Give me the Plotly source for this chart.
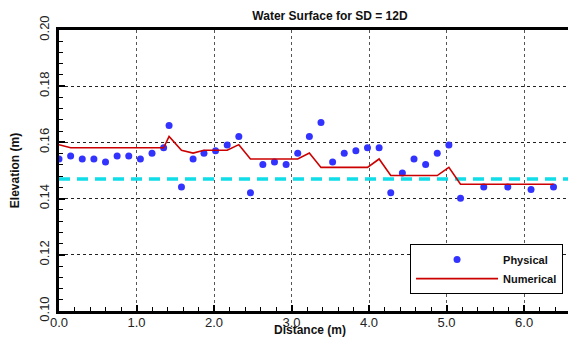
import plotly.graph_objects as go

# ---- data ----
x_phys = [0.0, 0.15, 0.30, 0.45, 0.60, 0.75, 0.90, 1.05, 1.20, 1.35,
          1.42, 1.58, 1.73, 1.87, 2.02, 2.17, 2.32, 2.47, 2.63, 2.78,
          2.93, 3.08, 3.23, 3.38, 3.53, 3.68, 3.83, 3.98, 4.13, 4.28,
          4.43, 4.58, 4.73, 4.88, 5.03, 5.18, 5.48, 5.79, 6.09, 6.38]
y_phys = [0.1541, 0.1552, 0.1541, 0.1541, 0.1530, 0.1552, 0.1552, 0.1541, 0.1561, 0.1581,
          0.1660, 0.1441, 0.1541, 0.1561, 0.1570, 0.1591, 0.1621, 0.1421, 0.1521, 0.1530,
          0.1521, 0.1561, 0.1621, 0.1671, 0.1530, 0.1561, 0.1570, 0.1581, 0.1581, 0.1421,
          0.1491, 0.1541, 0.1521, 0.1561, 0.1591, 0.1401, 0.1441, 0.1441, 0.1432, 0.1441]

x_num = [0.0, 0.15, 1.35, 1.42, 1.58, 1.73, 1.87, 2.17, 2.32, 2.47,
         3.08, 3.23, 3.38, 3.98, 4.13, 4.28, 4.88, 5.03, 5.18, 6.38]
y_num = [0.1592, 0.1581, 0.1581, 0.1621, 0.1572, 0.1562, 0.1572, 0.1572, 0.1592, 0.1541,
         0.1541, 0.1562, 0.1511, 0.1511, 0.1541, 0.1482, 0.1482, 0.1511, 0.1451, 0.1451]

ref_x = [0.0, 6.67]
ref_y = [0.147, 0.147]

x_ticks = [0, 1, 2, 3, 4, 5, 6]
x_ticklabels = ["0.0", "1.0", "2.0", "3.0", "4.0", "5.0", "6.0"]
y_ticks = [0.10, 0.12, 0.14, 0.16, 0.18, 0.20]
y_ticklabels = ["0.10", "0.12", "0.14", "0.16", "0.18", "0.20"]

FONT = "Liberation Sans, Arial, sans-serif"

fig = go.Figure()
fig.add_trace(go.Scatter(
    x=ref_x, y=ref_y, mode="lines", showlegend=False, hoverinfo="skip",
    line=dict(color="#11DDE8", width=3.5, dash="11px,7px")))
fig.add_trace(go.Scatter(
    x=x_phys, y=y_phys, mode="markers", name="Physical",
    marker=dict(color="#3333FF", size=7, line=dict(width=0))))
fig.add_trace(go.Scatter(
    x=x_num, y=y_num, mode="lines", name="Numerical",
    line=dict(color="#CC0000", width=1.6)))

# the page body adds an 8px margin, so the figure is 8px smaller on each side
fig.update_layout(
    width=568, height=332,
    margin=dict(l=51, r=0, t=22, b=29, autoexpand=False),
    paper_bgcolor="white", plot_bgcolor="white",
    font=dict(family=FONT, color="#111"),
    title=dict(text="<b>Water Surface for SD = 12D</b>",
               x=(330 - 8) / 568, xref="container", xanchor="center",
               y=0.977, yref="container", yanchor="middle",
               font=dict(size=12, family=FONT, color="#111")),
    legend=dict(x=0.679, xanchor="left", y=0.238, yanchor="top",
                bgcolor="white", bordercolor="black", borderwidth=1,
                font=dict(size=11, family=FONT, color="#111", weight="bold"),
                itemwidth=82, tracegroupgap=0),
    showlegend=True,
    annotations=[dict(text="<b>Distance (m)</b>", xref="paper", yref="paper",
                      x=0.4855, y=-0.066, xanchor="center", yanchor="middle",
                      showarrow=False,
                      font=dict(size=12, family=FONT, color="#111"))],
)

fig.update_xaxes(
    range=[0, 6.67], tickvals=x_ticks, ticktext=x_ticklabels,
    automargin=False,
    showline=True, linecolor="black", linewidth=2.5, mirror=True,
    ticks="inside", ticklen=6, tickcolor="black", tickwidth=1.5,
    tickfont=dict(size=13, family=FONT, color="#222"),
    ticklabelstandoff=-2,
    showgrid=True, gridcolor="#555", griddash="dot", gridwidth=1,
    zeroline=False,
    minor=dict(dtick=0.2, tick0=0, ticks="inside", ticklen=4, tickcolor="black",
               tickwidth=1, showgrid=False),
)
fig.update_yaxes(
    range=[0.10, 0.20], tickvals=y_ticks, ticktext=y_ticklabels,
    tickangle=-90, automargin=False,
    showline=True, linecolor="black", linewidth=2.5,
    ticks="inside", ticklen=6, tickcolor="black", tickwidth=1.5,
    tickfont=dict(size=13, family=FONT, color="#222"),
    ticklabelstandoff=2,
    showgrid=True, gridcolor="#222", griddash="dot", gridwidth=1,
    zeroline=False,
    minor=dict(dtick=0.004, tick0=0.10, ticks="inside", ticklen=4, tickcolor="black",
               tickwidth=1, showgrid=False),
    title=dict(text="<b>Elevation (m)</b>",
               font=dict(size=12, family=FONT, color="#111")),
)

fig.write_html("out.html")
